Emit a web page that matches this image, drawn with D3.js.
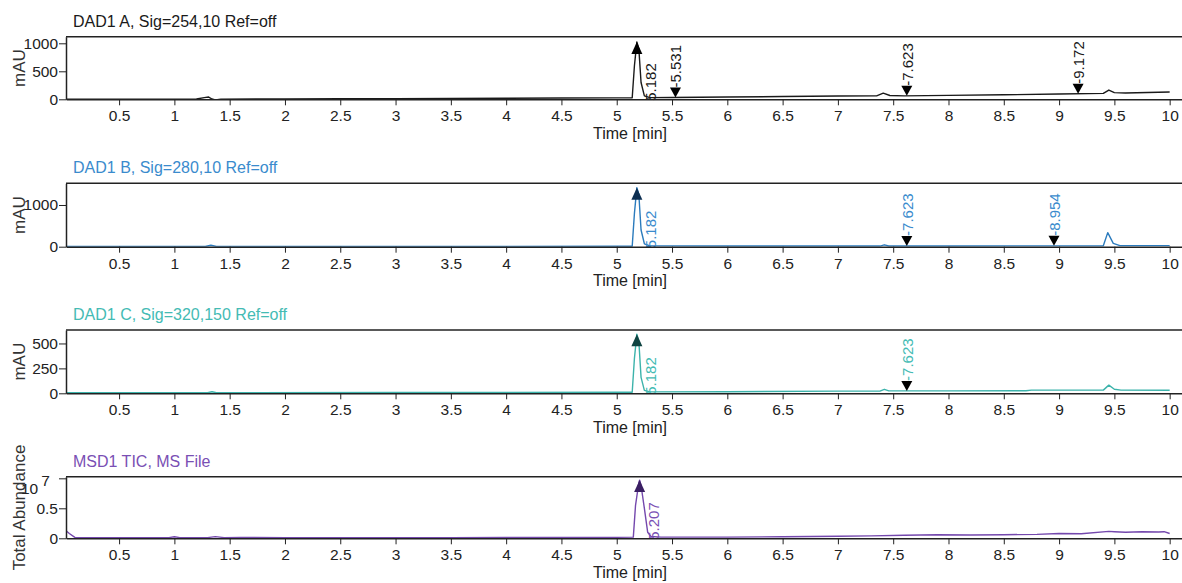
<!DOCTYPE html>
<html>
<head>
<meta charset="utf-8">
<script src="https://cdn.jsdelivr.net/npm/d3@7"></script>
<style>
  body { margin: 0; background: #fff; }
  svg { display: block; }
  text { font-family: "Liberation Sans", Arial, sans-serif; }
</style>
</head>
<body>
<svg id="chart" width="1182" height="583"></svg>
<script>
// ---- DAD1 A, 254 nm (mAU) ----
const timesA  = [0.02, 0.5, 1.0, 1.2, 1.27, 1.31, 1.34, 1.37, 1.42, 2.0, 2.5, 3.0, 3.5, 4.0, 4.5, 5.0, 5.14,
                 5.16, 5.182, 5.2, 5.22, 5.25, 5.3, 5.5, 6.0, 6.5, 7.0, 7.35, 7.41, 7.47, 7.6, 8.0, 8.5, 9.0,
                 9.4, 9.45, 9.5, 9.6, 10.0];
const signalA = [2, 3, 4, 5, 30, 40, 5, -10, 4, 8, 10, 12, 15, 18, 22, 25, 28,
                 600, 1025, 900, 300, 60, 30, 32, 40, 50, 58, 62, 110, 68, 62, 70, 80, 95,
                 105, 165, 120, 112, 130];

// ---- DAD1 B, 280 nm (mAU) ----
const timesB  = [0.02, 1.0, 1.28, 1.33, 1.38, 2.0, 3.0, 4.0, 5.0, 5.14, 5.16, 5.182, 5.2, 5.22, 5.25, 5.3,
                 6.0, 7.0, 7.38, 7.42, 7.46, 8.0, 9.0, 9.4, 9.44, 9.49, 9.55, 10.0];
const signalB = [5, 5, 5, 35, 5, 6, 6, 8, 10, 12, 800, 1415, 1250, 400, 70, 20,
                 15, 15, 15, 45, 18, 18, 20, 22, 338, 80, 25, 25];

// ---- DAD1 C, 320 nm (mAU) ----
const timesC  = [0.02, 1.3, 1.34, 1.38, 3.0, 5.0, 5.14, 5.16, 5.182, 5.2, 5.22, 5.25, 5.3, 6.0, 7.0,
                 7.38, 7.42, 7.46, 8.0, 8.7, 8.75, 9.4, 9.45, 9.5, 9.56, 10.0];
const signalC = [6, 6, 16, 6, 8, 10, 10, 350, 592, 520, 160, 30, 14, 16, 22,
                 22, 40, 24, 24, 25, 32, 32, 82, 40, 32, 30];

// ---- MSD1 TIC (x10^7 counts) ----
const timesD  = [0.02, 0.05, 0.1, 0.3, 0.6, 0.95, 1.0, 1.05, 1.3, 1.37, 1.45, 1.6, 2.0, 2.5, 3.0, 3.5,
                 4.0, 4.5, 5.0, 5.15, 5.17, 5.2, 5.207, 5.22, 5.25, 5.28, 5.31, 5.4, 6.0, 6.5, 7.0,
                 7.3, 7.6, 7.9, 8.2, 8.5, 8.8, 9.0, 9.2, 9.45, 9.5, 9.6, 9.75, 9.9, 9.95, 10.0];
const signalD = [0.127, 0.08, 0.015, 0.012, 0.012, 0.012, 0.025, 0.012, 0.012, 0.028, 0.012, 0.015, 0.01, 0.01, 0.012, 0.012,
                 0.014, 0.015, 0.015, 0.02, 0.55, 0.93, 0.97, 0.88, 0.5, 0.1, 0.03, 0.02, 0.02, 0.025, 0.035,
                 0.04, 0.05, 0.06, 0.055, 0.06, 0.065, 0.08, 0.075, 0.115, 0.11, 0.1, 0.11, 0.105, 0.11, 0.08];

// retention-time marks: "apex" marks point up at the peak top, "base" marks point down at the baseline
const peaksA = [{ rt: 5.182, kind: "apex" }, { rt: 5.531, kind: "base" }, { rt: 7.623, kind: "base" }, { rt: 9.172, kind: "base" }];
const peaksB = [{ rt: 5.182, kind: "apex" }, { rt: 7.623, kind: "base" }, { rt: 8.954, kind: "base" }];
const peaksC = [{ rt: 5.182, kind: "apex" }, { rt: 7.623, kind: "base" }];
const peaksD = [{ rt: 5.207, kind: "apex" }];

// axis ticks
const timeTicks = [0.5, 1, 1.5, 2, 2.5, 3, 3.5, 4, 4.5, 5, 5.5, 6, 6.5, 7, 7.5, 8, 8.5, 9, 9.5, 10];
const yTicksA = [0, 500, 1000];
const yTicksB = [0, 1000];
const yTicksC = [0, 250, 500];
const yTicksD = [0, 0.5, 1];

const panels = [
  { title: "DAD1 A, Sig=254,10 Ref=off", line: "#1a1a1a", ink: "#1a1a1a", mark: "#000",
    times: timesA, values: signalA, peaks: peaksA, yTicks: yTicksA, yMax: 1118,
    top: 36.7, bottom: 99.3, yLabel: "mAU" },
  { title: "DAD1 B, Sig=280,10 Ref=off", line: "#2b7bbd", ink: "#3a8bcd", mark: "#0d2f52",
    times: timesB, values: signalB, peaks: peaksB, yTicks: yTicksB, yMax: 1520,
    top: 183.3, bottom: 246.7, yLabel: "mAU" },
  { title: "DAD1 C, Sig=320,150 Ref=off", line: "#3cb3ab", ink: "#44bbb4", mark: "#0f4442",
    times: timesC, values: signalC, peaks: peaksC, yTicks: yTicksC, yMax: 635,
    top: 330, bottom: 393.3, yLabel: "mAU" },
  { title: "MSD1 TIC, MS File", line: "#7448ad", ink: "#7a4fb4", mark: "#3a1f63",
    times: timesD, values: signalD, peaks: peaksD, yTicks: yTicksD, yMax: 1.027,
    top: 476.7, bottom: 538.3, yLabel: "Total Abundance", exponent: true }
];

const svg = d3.select("#chart");
const left = 66, right = 1194;
const x = d3.scaleLinear().domain([0.02, 10.22]).range([left, right]);
const frame = "#222";

function valueAt(times, values, t) {
  const i = d3.bisector(d => d).left(times, t);
  if (i <= 0) return values[0];
  if (i >= times.length) return values[values.length - 1];
  const t0 = times[i - 1], t1 = times[i];
  const k = (t - t0) / (t1 - t0);
  return values[i - 1] + k * (values[i] - values[i - 1]);
}

panels.forEach((p, idx) => {
  const y = d3.scaleLinear().domain([0, p.yMax]).range([p.bottom, p.top]);
  const g = svg.append("g");

  const clipId = "plot-clip-" + idx;
  g.append("clipPath").attr("id", clipId)
    .append("rect").attr("x", left).attr("y", p.top)
    .attr("width", right - left).attr("height", p.bottom - p.top);

  // panel title
  g.append("text").attr("x", 73).attr("y", p.top - 10)
    .attr("font-size", 16).attr("fill", p.ink).text(p.title);

  // trace
  const pts = p.times.map((t, i) => [t, p.values[i]]);
  g.append("path").datum(pts)
    .attr("clip-path", `url(#${clipId})`)
    .attr("fill", "none").attr("stroke", p.line).attr("stroke-width", 1.4)
    .attr("stroke-linejoin", "round")
    .attr("d", d3.line().x(d => x(d[0])).y(d => y(d[1])));

  // retention-time marks
  p.peaks.forEach(pk => {
    const v = valueAt(p.times, p.values, pk.rt);
    const px = x(pk.rt), py = y(v);
    const label = pk.rt.toFixed(3);
    if (pk.kind === "apex") {
      g.append("path")
        .attr("d", `M${px},${py} L${px - 5.5},${py + 12} L${px + 5.5},${py + 12} Z`)
        .attr("fill", p.mark);
      g.append("text")
        .attr("transform", `translate(${px + 19.5},${p.bottom + 1.5}) rotate(-90)`)
        .attr("font-size", 15).attr("fill", p.ink).text(label);
    } else {
      g.append("path")
        .attr("d", `M${px},${py} L${px - 5.5},${py - 10} L${px + 5.5},${py - 10} Z`)
        .attr("fill", "#000");
      g.append("text")
        .attr("transform", `translate(${px + 6},${py - 10}) rotate(-90)`)
        .attr("font-size", 15).attr("fill", p.ink).text("-" + label);
    }
  });

  // frame top edge
  g.append("line").attr("x1", left).attr("x2", right)
    .attr("y1", p.top).attr("y2", p.top)
    .attr("stroke", frame).attr("stroke-width", 1.5);

  // time axis
  const xa = g.append("g").attr("transform", `translate(0,${p.bottom})`)
    .call(d3.axisBottom(x).tickValues(timeTicks).tickFormat(d3.format("~g"))
      .tickSize(6).tickPadding(5).tickSizeOuter(0));
  xa.select(".domain").attr("stroke", frame).attr("stroke-width", 1.6);
  xa.selectAll(".tick line").attr("stroke", frame);
  xa.selectAll(".tick text").attr("font-size", 15.5).attr("fill", "#222")
    .attr("font-family", '"Liberation Sans", Arial, sans-serif');

  g.append("text").attr("x", (left + right) / 2).attr("y", p.bottom + 39.5)
    .attr("text-anchor", "middle").attr("font-size", 16).attr("fill", "#222")
    .text("Time [min]");

  // signal axis
  const ya = g.append("g").attr("transform", `translate(${left},0)`)
    .call(d3.axisLeft(y).tickValues(p.yTicks)
      .tickFormat(d => (p.exponent && d === 1) ? "" : d3.format("~g")(d))
      .tickSize(7).tickPadding(1).tickSizeOuter(0));
  ya.select(".domain").attr("stroke", frame).attr("stroke-width", 1.5);
  ya.selectAll(".tick line").attr("stroke", frame);
  ya.selectAll(".tick text").attr("font-size", 15.5).attr("fill", "#222")
    .attr("font-family", '"Liberation Sans", Arial, sans-serif');

  g.append("text")
    .attr("transform", `translate(25,${(p.top + p.bottom) / 2}) rotate(-90)`)
    .attr("text-anchor", "middle").attr("font-size", 17).attr("fill", "#333")
    .text(p.yLabel);

  if (p.exponent) {
    const ex = g.append("text").attr("x", 21).attr("y", y(1) + 16)
      .attr("font-size", 15.5).attr("fill", "#222");
    ex.append("tspan").text("10");
    ex.append("tspan").attr("dx", 3).attr("dy", -8).text("7");
  }
});
</script>
</body>
</html>
